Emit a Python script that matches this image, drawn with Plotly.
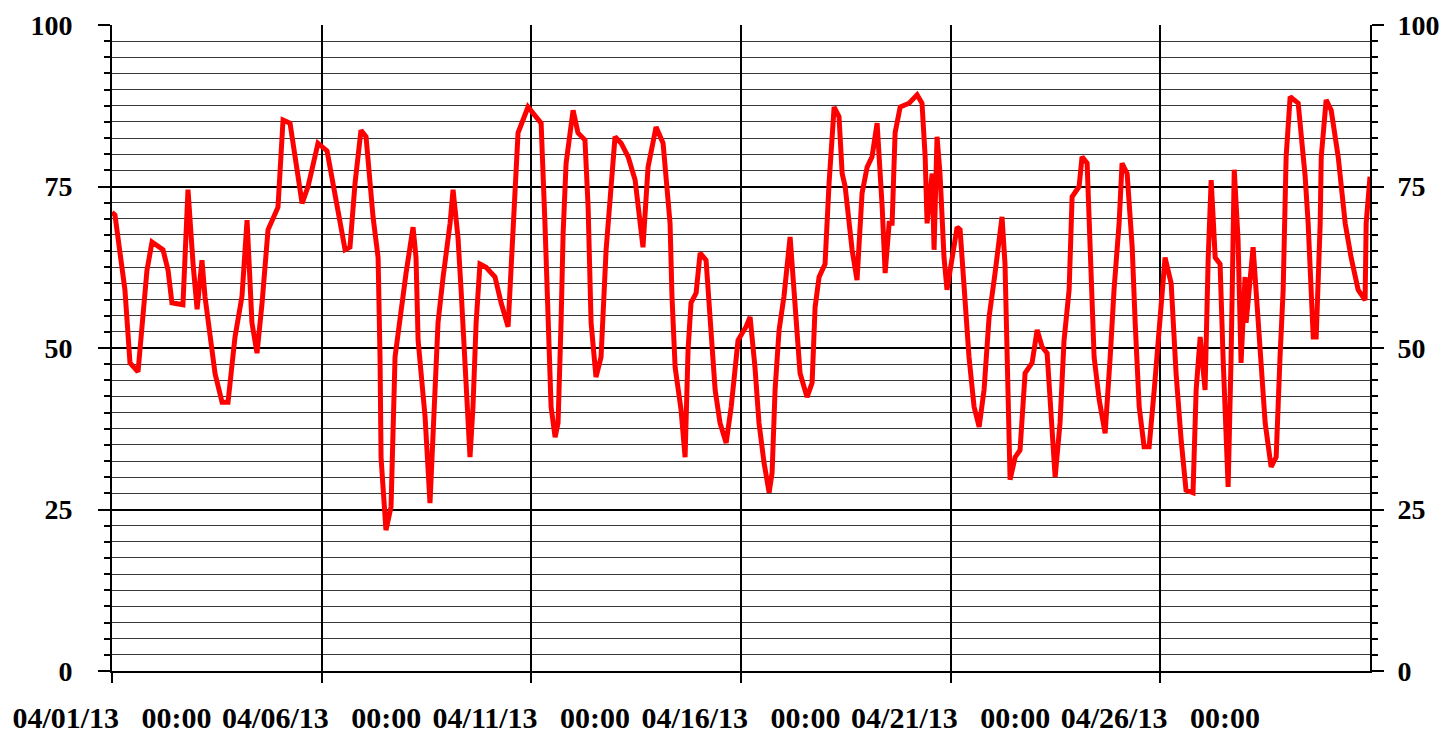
import plotly.graph_objects as go
import pandas as pd

# Hours elapsed since 04/01/13 00:00 and the readings
hours = [0, 1.7, 7.4, 10.3, 14.9, 20.0, 22.9, 29.2, 32.1, 34.3, 40.6, 43.5, 46.4, 48.7, 51.5, 53.2,
         59.0, 63.0, 66.4, 70.4, 74.4, 77.3, 80.1, 83.0, 85.9, 89.3, 95.0, 97.9, 101.9, 108.8, 112.2,
         117.9, 123.1, 125.4, 129.4, 133.4, 136.2, 139.1, 142.5, 145.4, 149.4, 152.3, 153.4, 154.0,
         156.8, 159.7, 162.0, 164.8, 168.3, 172.3, 174.0, 175.2, 179.2, 182.0, 183.7, 186.6, 189.5,
         193.5, 195.2, 198.0, 199.8, 202.1, 204.9, 206.6, 208.4, 210.6, 214.1, 219.2, 222.7, 226.7,
         229.5, 232.4, 238.1, 242.7, 245.6, 247.8, 249.6, 251.3, 253.6, 255.3, 257.0, 258.2, 259.9,
         263.9, 266.7, 270.7, 272.5, 274.2, 277.0, 279.9, 282.8, 285.1, 287.9, 291.4, 295.4, 299.4,
         303.9, 306.8, 311.4, 315.4, 319.4, 320.5, 322.3, 325.7, 328.0, 329.7, 331.4, 334.3, 336.6,
         340.0, 342.3, 345.2, 348.0, 351.5, 354.4, 358.3, 362.9, 365.2, 368.0, 370.3, 373.2, 376.1,
         377.8, 379.5, 381.8, 384.6, 388.1, 390.4, 392.1, 393.8, 397.8, 400.7, 402.4, 404.7, 408.1,
         410.4, 413.3, 416.1, 417.9, 419.6, 423.6, 426.4, 429.3, 432.2, 435.0, 437.9, 440.8, 442.5,
         444.8, 446.5, 448.2, 451.1, 456.2, 460.8, 463.6, 465.4, 466.5, 469.4, 470.5, 472.2, 473.9,
         476.2, 477.9, 483.7, 485.4, 487.7, 490.5, 493.4, 496.3, 499.1, 502.0, 505.4, 509.4, 511.1,
         512.3, 514.0, 516.9, 519.7, 522.6, 526.6, 529.5, 532.3, 535.2, 538.1, 539.8, 542.6, 544.9,
         547.8, 549.5, 553.5, 555.2, 558.1, 559.8, 562.1, 565.0, 568.4, 571.3, 573.5, 576.4, 578.1,
         581.0, 583.9, 585.6, 587.9, 590.7, 593.6, 596.5, 599.9, 602.7, 606.2, 609.0, 611.9, 614.7,
         618.7, 620.5, 622.8, 625.6, 627.4, 629.1, 631.4, 634.2, 635.9, 638.8, 640.5, 642.3, 644.5,
         646.2, 648.5, 649.1, 653.1, 654.8, 657.1, 660.0, 663.4, 666.3, 668.5, 670.3, 672.0, 674.3,
         678.9, 682.9, 684.6, 686.3, 687.5, 689.2, 691.5, 692.1, 694.9, 697.8, 701.8, 705.8, 709.2,
         713.2, 717.2, 717.8, 720.0]
values = [71, 70.6, 59, 47.7, 46.3, 62, 66.4, 65.2, 62, 57, 56.7, 74.5, 63, 56, 63.6, 58,
          46, 41.6, 41.6, 51.7, 58, 69.8, 53.9, 49.2, 57, 68.3, 71.8, 85.3, 84.8, 72.4, 75,
          81.7, 80.5, 77, 70.3, 65.2, 65.6, 75.5, 83.7, 82.7, 70.3, 64, 48.6, 33,
          21.8, 25.4, 48.6, 54.8, 61.6, 68.7, 64, 51.2, 39.3, 26, 35.8, 53.9, 61,
          69.3, 74.5, 67.2, 59, 47.7, 33.1, 40.9, 53.9, 63, 62.5, 61, 57, 53.3,
          69.3, 83.3, 87.3, 85.8, 84.8, 69.3, 51.2, 40.9, 36.2, 38.4, 53.9, 67.8, 78.6,
          86.8, 83.3, 82.2, 71.8, 53.9, 45.5, 48.6, 65.2, 72.9, 82.7, 81.7, 79.6, 76,
          65.6, 78, 84.2, 81.7, 69.3, 58, 47, 40.4, 33.1, 49.7, 57, 58.5, 64.7,
          63.6, 54.8, 43.5, 38.4, 35.3, 40.9, 51.2, 53.3, 54.8, 47, 38.4, 32.2, 27.6,
          30.7, 43.5, 52.8, 58, 67.2, 59, 52.8, 46.1, 42.4, 44.6, 56.3, 61, 63,
          75.5, 87.3, 85.8, 77, 75, 65.2, 60.5, 74, 78, 79.6, 84.8, 71.8, 61.6,
          69.3, 69.3, 83.3, 87.3, 87.9, 89.2, 87.9, 79.6, 69.3, 77, 65.2, 82.7, 77,
          64, 59, 68.7, 68.3, 59, 48.6, 40.9, 37.8, 43.5, 54.8, 61.6, 70.3, 63,
          48.6, 29.6, 33.1, 34.2, 46.1, 47.7, 52.8, 50.2, 49.2, 38.4, 30, 38.4, 51.2,
          59, 73.4, 75, 79.6, 78.6, 66.7, 48.6, 42, 36.8, 48.6, 59, 69.3, 78.6,
          77, 65.6, 53.9, 40.9, 34.7, 34.7, 43.5, 53.9, 64, 60, 46.1, 35.8, 28,
          27.6, 43.5, 51.7, 43.5, 64, 76, 64, 63, 48.6, 28.5, 48.6, 77.6, 66.7,
          47.7, 61, 53.9, 65.6, 59, 48.6, 38.4, 31.6, 33.1, 48.6, 59, 79.6, 88.9,
          87.9, 76.5, 69.3, 59, 51.7, 51.7, 69.3, 79.6, 88.4, 86.8, 79.6, 69.3, 64,
          59, 57.4, 69.3, 76.5]

tick_dates = ["2013-04-01", "2013-04-06", "2013-04-11", "2013-04-16", "2013-04-21", "2013-04-26"]
tick_text = ["04/01/13\u00a0\u00a0\u00a000:00", "04/06/13\u00a0\u00a0\u00a000:00",
             "04/11/13\u00a0\u00a0\u00a000:00", "04/16/13\u00a0\u00a0\u00a000:00",
             "04/21/13\u00a0\u00a0\u00a000:00", "04/26/13\u00a0\u00a0\u00a000:00"]
y_ticks = [0, 25, 50, 75, 100]

start = pd.Timestamp("2013-04-01 00:00")
times = [start + pd.Timedelta(hours=h) for h in hours]

xfont = dict(family="Liberation Serif", size=30, color="black")
yfont = dict(family="Liberation Serif", size=28, color="black")

fig = go.Figure()
fig.add_trace(go.Scatter(x=times, y=values, mode="lines",
                         line=dict(color="#ff0000", width=5), showlegend=False,
                         hoverinfo="x+y"))
# invisible trace to carry the right-hand axis
fig.add_trace(go.Scatter(x=[times[0], times[-1]], y=[0, 100], yaxis="y2", mode="lines",
                         line=dict(width=0), opacity=0, showlegend=False, hoverinfo="skip"))

yaxis_common = dict(
    range=[0, 100], tickvals=y_ticks, ticktext=[f"<b>{v}</b>" for v in y_ticks],
    tickfont=yfont, showline=True, linecolor="black", linewidth=2,
    ticks="outside", ticklen=12, tickwidth=2, tickcolor="black",
    zeroline=False, fixedrange=True, automargin=False,
)

fig.update_layout(
    width=1452, height=736,
    margin=dict(l=112, r=82, t=25, b=65, autoexpand=False),
    paper_bgcolor="white", plot_bgcolor="white",
    xaxis=dict(
        range=[start, pd.Timestamp("2013-05-01 00:00")],
        tickvals=pd.to_datetime(tick_dates), ticktext=[f"<b>{t}</b>" for t in tick_text],
        tickfont=xfont, showgrid=True, gridcolor="black", gridwidth=1.5,
        showline=True, linecolor="black", linewidth=2,
        ticks="outside", ticklen=10, tickwidth=2, tickcolor="black",
        ticklabelstandoff=9, zeroline=False, automargin=False,
    ),
    yaxis=dict(
        **yaxis_common,
        showgrid=True, gridcolor="black", gridwidth=2,
        minor=dict(dtick=2.5, showgrid=True, gridcolor="#3a3a3a", gridwidth=1,
                   ticks="outside", ticklen=6, tickwidth=2, tickcolor="black"),
        ticklabelstandoff=20,
    ),
    yaxis2=dict(
        **yaxis_common, overlaying="y", side="right", showgrid=False,
        minor=dict(dtick=2.5, ticks="outside", ticklen=6, tickwidth=2, tickcolor="black"),
        ticklabelstandoff=8,
    ),
)

fig.write_html("out.html", config={"displayModeBar": False},
               post_script="document.body.style.margin='0';document.body.style.overflow='hidden';")
